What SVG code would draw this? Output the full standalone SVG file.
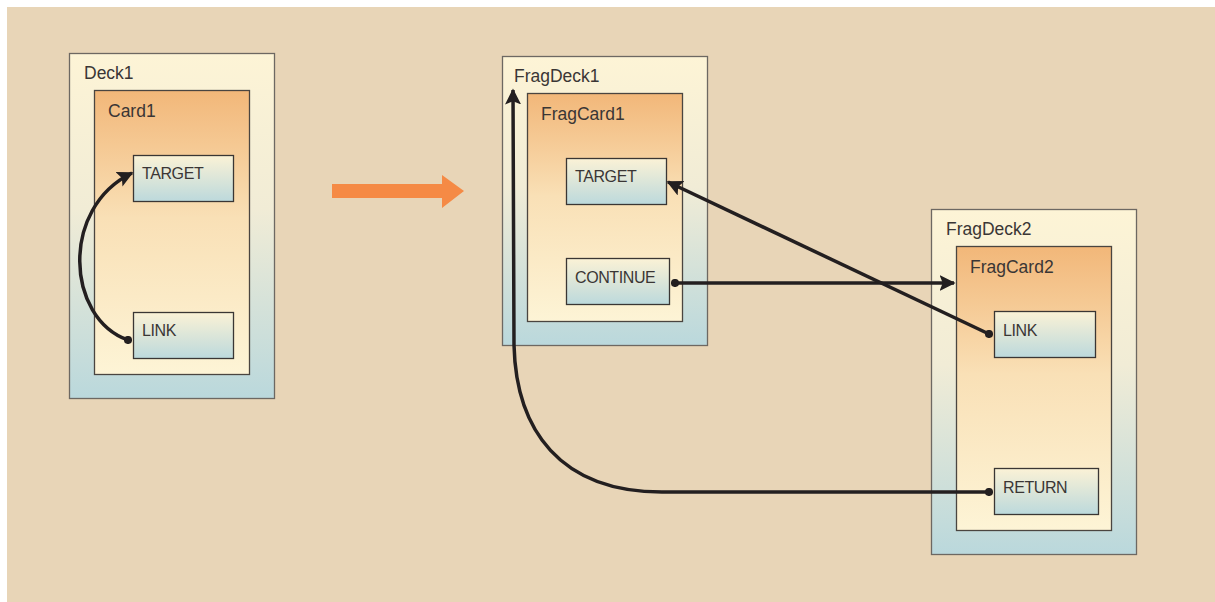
<svg xmlns="http://www.w3.org/2000/svg" width="1215" height="602" viewBox="0 0 1215 602">
<defs>
<linearGradient id="gDeck" x1="0" y1="0" x2="0" y2="1">
<stop offset="0" stop-color="#fdf4d6"/><stop offset="0.45" stop-color="#f1ecd6"/><stop offset="1" stop-color="#bad8dc"/>
</linearGradient>
<linearGradient id="gCard" x1="0" y1="0" x2="0" y2="1">
<stop offset="0" stop-color="#f2b779"/><stop offset="0.45" stop-color="#f9e0b6"/><stop offset="1" stop-color="#fdf4d6"/>
</linearGradient>
<linearGradient id="gBox" x1="0" y1="0" x2="0" y2="1">
<stop offset="0" stop-color="#fbf2d6"/><stop offset="1" stop-color="#bcd9dc"/>
</linearGradient>
<marker id="ah" viewBox="0 0 10 10" refX="9" refY="5" markerWidth="4.6" markerHeight="4.6" orient="auto" markerUnits="strokeWidth">
<path d="M0,0 L10,5 L0,10 L2,5 Z" fill="#231f20"/>
</marker>
<marker id="dot" viewBox="0 0 10 10" refX="5" refY="5" markerWidth="2.3" markerHeight="2.3" markerUnits="strokeWidth">
<circle cx="5" cy="5" r="5" fill="#231f20"/>
</marker>
</defs>
<style>
.deck{fill:url(#gDeck);stroke:#6d6862;stroke-width:1.3}
.card{fill:url(#gCard);stroke:#4a4540;stroke-width:1.3}
.box{fill:url(#gBox);stroke:#3a3634;stroke-width:1.3}
.lbl{font-family:"Liberation Sans",Arial,sans-serif;font-size:17.5px;fill:#3a3635}
.blbl{font-family:"Liberation Sans",Arial,sans-serif;font-size:16px;fill:#3a3635;letter-spacing:-0.4px}
.conn{fill:none;stroke:#231f20;stroke-width:3.5;marker-end:url(#ah);marker-start:url(#dot)}
</style>
<rect x="7" y="7" width="1208" height="595" fill="#e8d5b7"/>

<g id="deck1">
<rect class="deck" x="69.5" y="53.5" width="205" height="345"/>
<text class="lbl" x="84" y="79">Deck1</text>
<g id="card1">
<rect class="card" x="94.5" y="90.5" width="155" height="284"/>
<text class="lbl" x="108" y="117">Card1</text>
<g id="d1target"><rect class="box" x="133.5" y="155.5" width="100" height="46"/><text class="blbl" x="142" y="179">TARGET</text></g>
<g id="d1link"><rect class="box" x="133.5" y="312.5" width="100" height="46"/><text class="blbl" x="142" y="336">LINK</text></g>
</g>
</g>

<g id="bigarrow">
<path d="M332,184 L442,184 L442,175 L464,191 L442,208 L442,198 L332,198 Z" fill="#f58a45"/>
</g>

<g id="fragdeck1">
<rect class="deck" x="502.5" y="56.5" width="205" height="289"/>
<text class="lbl" x="514" y="82">FragDeck1</text>
<g id="fragcard1">
<rect class="card" x="527.5" y="93.5" width="155" height="228"/>
<text class="lbl" x="541" y="120">FragCard1</text>
<g id="f1target"><rect class="box" x="566.5" y="158.5" width="100" height="46"/><text class="blbl" x="575" y="182">TARGET</text></g>
<g id="f1continue"><rect class="box" x="566.5" y="258.5" width="103" height="46"/><text class="blbl" x="575" y="283">CONTINUE</text></g>
</g>
</g>

<g id="fragdeck2">
<rect class="deck" x="931.5" y="209.5" width="205" height="345"/>
<text class="lbl" x="946" y="235">FragDeck2</text>
<g id="fragcard2">
<rect class="card" x="956.5" y="246.5" width="155" height="284"/>
<text class="lbl" x="970" y="273">FragCard2</text>
<g id="f2link"><rect class="box" x="994.5" y="311.5" width="101" height="46"/><text class="blbl" x="1003" y="336">LINK</text></g>
<g id="f2return"><rect class="box" x="994.5" y="468.5" width="104" height="46"/><text class="blbl" x="1003" y="493">RETURN</text></g>
</g>
</g>

<g id="connectors">
<path class="conn" d="M128,340 C66,318 60,208 132,173"/>
<path class="conn" d="M675,283 L954,283"/>
<path class="conn" d="M989,334 L668,182"/>
<path class="conn" d="M989,492 L662,492 C560,492 516,430 514,345 L513,90"/>
</g>
</svg>
